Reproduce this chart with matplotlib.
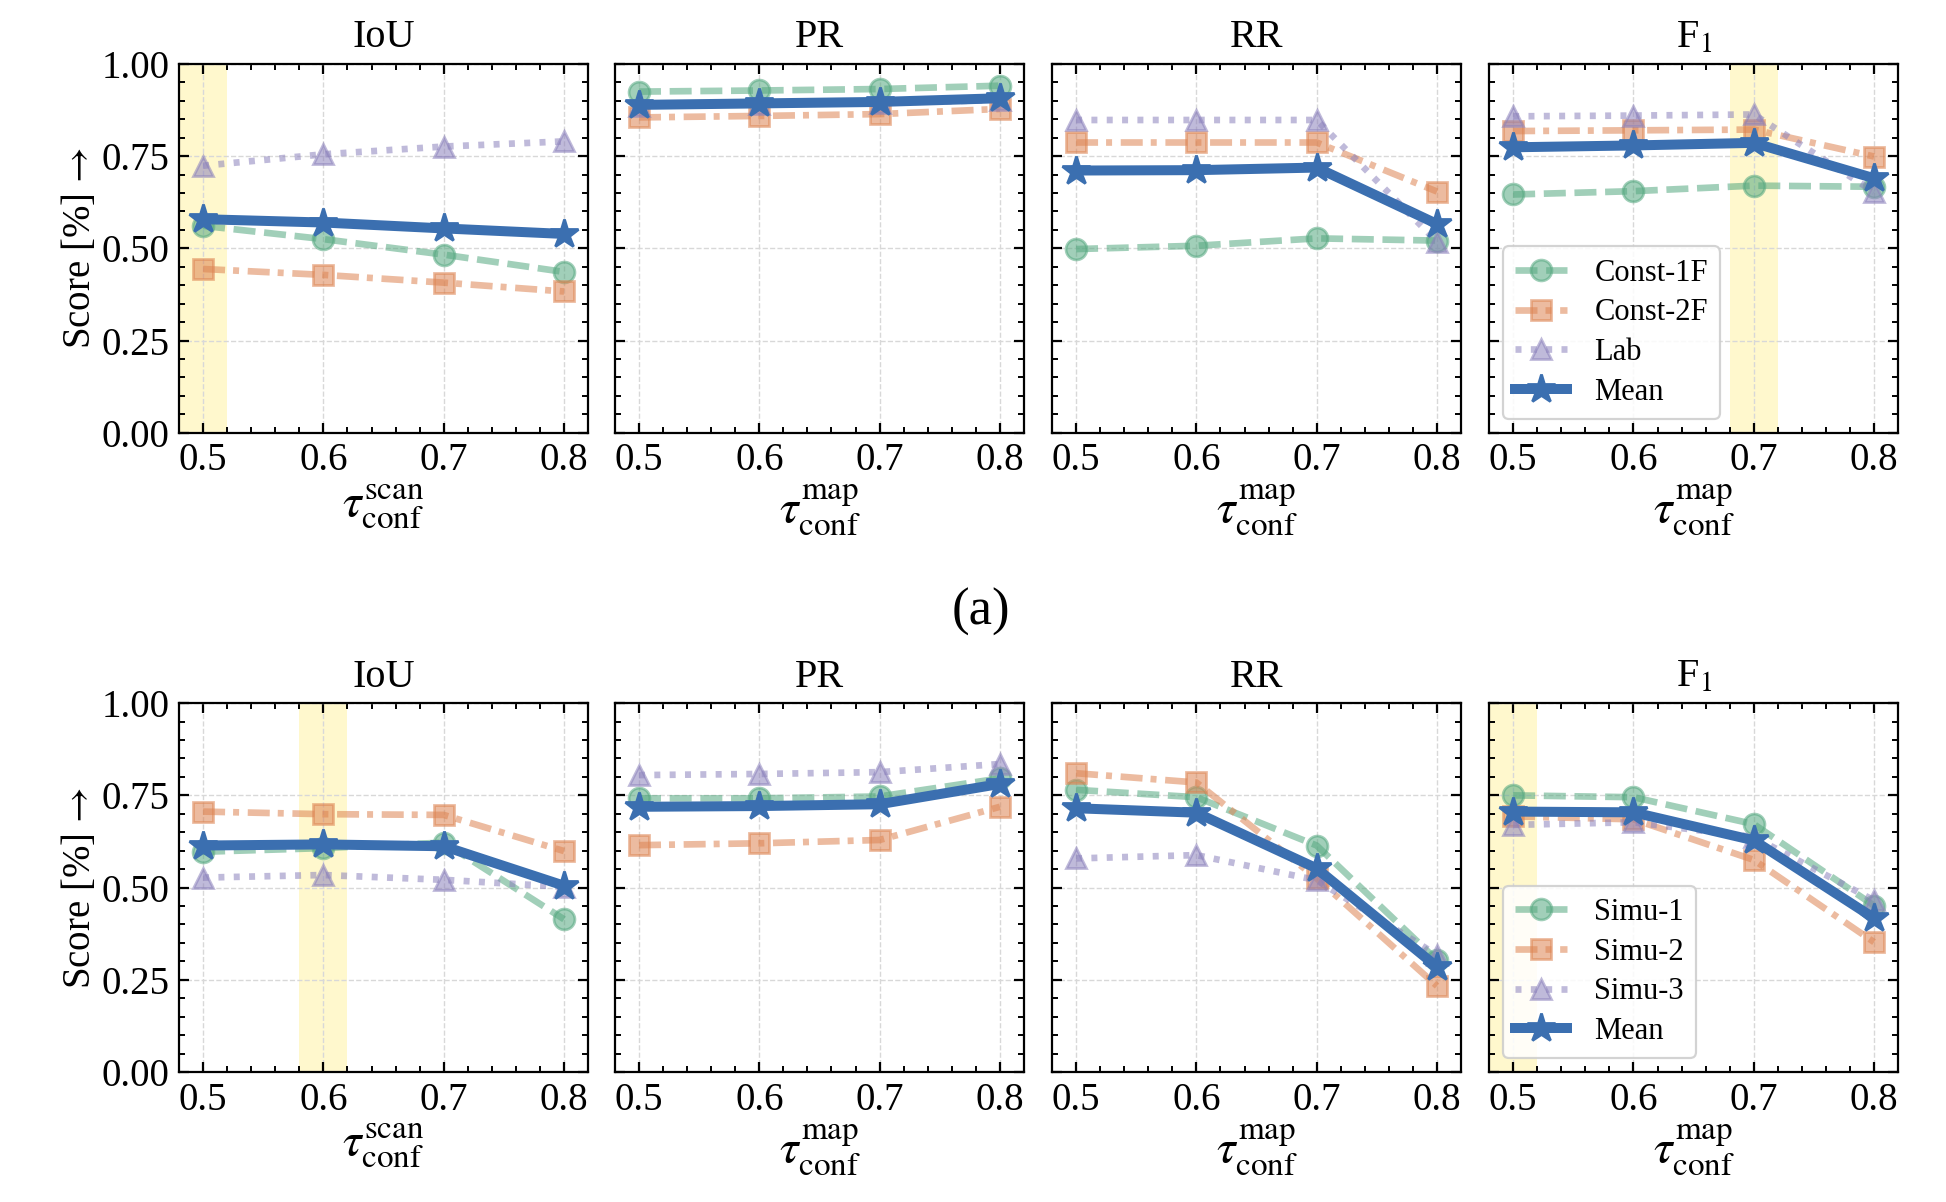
import matplotlib
matplotlib.use('Agg')
import matplotlib.pyplot as plt
from matplotlib.ticker import MultipleLocator

# fonte tipo Times e matemática STIX
plt.rcParams['font.family'] = ['Liberation Serif', 'DejaVu Serif']
plt.rcParams['mathtext.fontset'] = 'stix'

# eixos x comuns
limiares = [0.5, 0.6, 0.7, 0.8]
metricas = ['IoU', 'PR', 'RR', r'F$_1$']

# (a) conjuntos reais
nomes_a = ['Const-1F', 'Const-2F', 'Lab', 'Mean']
const1f = {
    'IoU': [0.561, 0.525, 0.483, 0.436],
    'PR': [0.925, 0.928, 0.932, 0.941],
    'RR': [0.498, 0.507, 0.527, 0.521],
    'F1': [0.646, 0.655, 0.670, 0.667],
}
const2f = {
    'IoU': [0.444, 0.428, 0.407, 0.383],
    'PR': [0.855, 0.859, 0.864, 0.878],
    'RR': [0.787, 0.787, 0.787, 0.654],
    'F1': [0.818, 0.820, 0.822, 0.749],
}
lab = {
    'IoU': [0.724, 0.755, 0.776, 0.790],
    'PR': [0.887, 0.892, 0.895, 0.902],
    'RR': [0.848, 0.848, 0.848, 0.518],
    'F1': [0.858, 0.860, 0.863, 0.653],
}
media_a = {
    'IoU': [0.579, 0.570, 0.554, 0.539],
    'PR': [0.889, 0.893, 0.897, 0.907],
    'RR': [0.711, 0.712, 0.719, 0.566],
    'F1': [0.774, 0.779, 0.786, 0.690],
}

# (b) conjuntos simulados
nomes_b = ['Simu-1', 'Simu-2', 'Simu-3', 'Mean']
simu1 = {
    'IoU': [0.597, 0.607, 0.622, 0.414],
    'PR': [0.742, 0.742, 0.747, 0.796],
    'RR': [0.765, 0.745, 0.614, 0.303],
    'F1': [0.750, 0.745, 0.672, 0.451],
}
simu2 = {
    'IoU': [0.706, 0.699, 0.697, 0.599],
    'PR': [0.615, 0.620, 0.629, 0.719],
    'RR': [0.810, 0.785, 0.525, 0.233],
    'F1': [0.693, 0.685, 0.575, 0.352],
}
simu3 = {
    'IoU': [0.527, 0.534, 0.521, 0.502],
    'PR': [0.805, 0.808, 0.813, 0.835],
    'RR': [0.579, 0.588, 0.520, 0.317],
    'F1': [0.670, 0.677, 0.637, 0.465],
}
media_b = {
    'IoU': [0.614, 0.617, 0.612, 0.505],
    'PR': [0.719, 0.721, 0.726, 0.781],
    'RR': [0.715, 0.703, 0.552, 0.285],
    'F1': [0.706, 0.704, 0.628, 0.417],
}

# melhor limiar destacado em cada linha (IoU, F1)
destaque_a = {'IoU': 0.5, 'F1': 0.7}
destaque_b = {'IoU': 0.6, 'F1': 0.5}

chaves = ['IoU', 'PR', 'RR', 'F1']
cores = ['#55a880', '#dd8452', '#8c82bc', '#3b6fb0']
estilos = [(0, (3.3, 1.3)), (0, (3.3, 1.2, 0.9, 1.3)), (0, (0.9, 1.4)), '-']
marcadores = ['o', 's', '^', '*']

fig = plt.figure(figsize=(9.73, 6.01), dpi=200)

esquerdas = [0.0920, 0.3160, 0.5406, 0.7652]
largura = 0.2102
altura = 0.3068
bases = [0.6400, 0.1082]

linhas = [
    ([const1f, const2f, lab, media_a], nomes_a, destaque_a),
    ([simu1, simu2, simu3, media_b], nomes_b, destaque_b),
]

for r, (series, nomes, destaque) in enumerate(linhas):
    for c, chave in enumerate(chaves):
        ax = fig.add_axes([esquerdas[c], bases[r], largura, altura])
        if chave in destaque:
            x0 = destaque[chave]
            ax.axvspan(x0 - 0.02, x0 + 0.02, color='#fff8c8', alpha=0.9, lw=0, zorder=0)
        for i, s in enumerate(series):
            if i < 3:
                ax.plot(limiares, s[chave], color=cores[i], ls=estilos[i], lw=2.4,
                        marker=marcadores[i], ms=7.5, alpha=0.55, label=nomes[i], zorder=2)
            else:
                ax.plot(limiares, s[chave], color=cores[i], ls='-', lw=3.6,
                        marker='*', ms=10.5, label=nomes[i], zorder=3)
        ax.set_xlim(0.48, 0.82)
        ax.set_ylim(0, 1)
        ax.set_xticks(limiares)
        ax.set_xticklabels([str(v) for v in limiares])
        ax.set_yticks([0, 0.25, 0.5, 0.75, 1.0])
        ax.xaxis.set_minor_locator(MultipleLocator(0.02))
        ax.yaxis.set_minor_locator(MultipleLocator(0.05))
        ax.tick_params(which='both', direction='in', top=True, right=True, labelsize=14)
        ax.tick_params(which='major', length=3.5, width=0.8)
        ax.tick_params(which='minor', length=2, width=0.7)
        ax.tick_params(axis='x', pad=3.5)
        for sp in ax.spines.values():
            sp.set_linewidth(0.8)
        ax.grid(True, which='major', ls='--', lw=0.5, color='#d8d8d8', zorder=1)
        ax.set_axisbelow(True)
        ax.set_title(metricas[c], fontsize=14.5, pad=6)
        if c == 0:
            ax.set_yticklabels(['0.00', '0.25', '0.50', '0.75', '1.00'])
            ax.set_ylabel(r'Score [%]$\,\rightarrow$', fontsize=14, labelpad=1)
            ax.set_xlabel(r'$\tau_{\mathrm{conf}}^{\mathrm{scan}}$', fontsize=17, labelpad=1)
        else:
            ax.set_yticklabels([])
            ax.set_xlabel(r'$\tau_{\mathrm{conf}}^{\mathrm{map}}$', fontsize=17, labelpad=1)
        if c == 3:
            leg = ax.legend(loc='lower left', fontsize=11, frameon=True, fancybox=True,
                            edgecolor='#cccccc', framealpha=0.85, handlelength=1.7,
                            handletextpad=0.9, borderaxespad=0.45, labelspacing=0.35)
            leg.get_frame().set_linewidth(0.8)

fig.text(0.504, 0.491, '(a)', ha='center', va='center', fontsize=19)

plt.savefig('out.png', dpi=200)
